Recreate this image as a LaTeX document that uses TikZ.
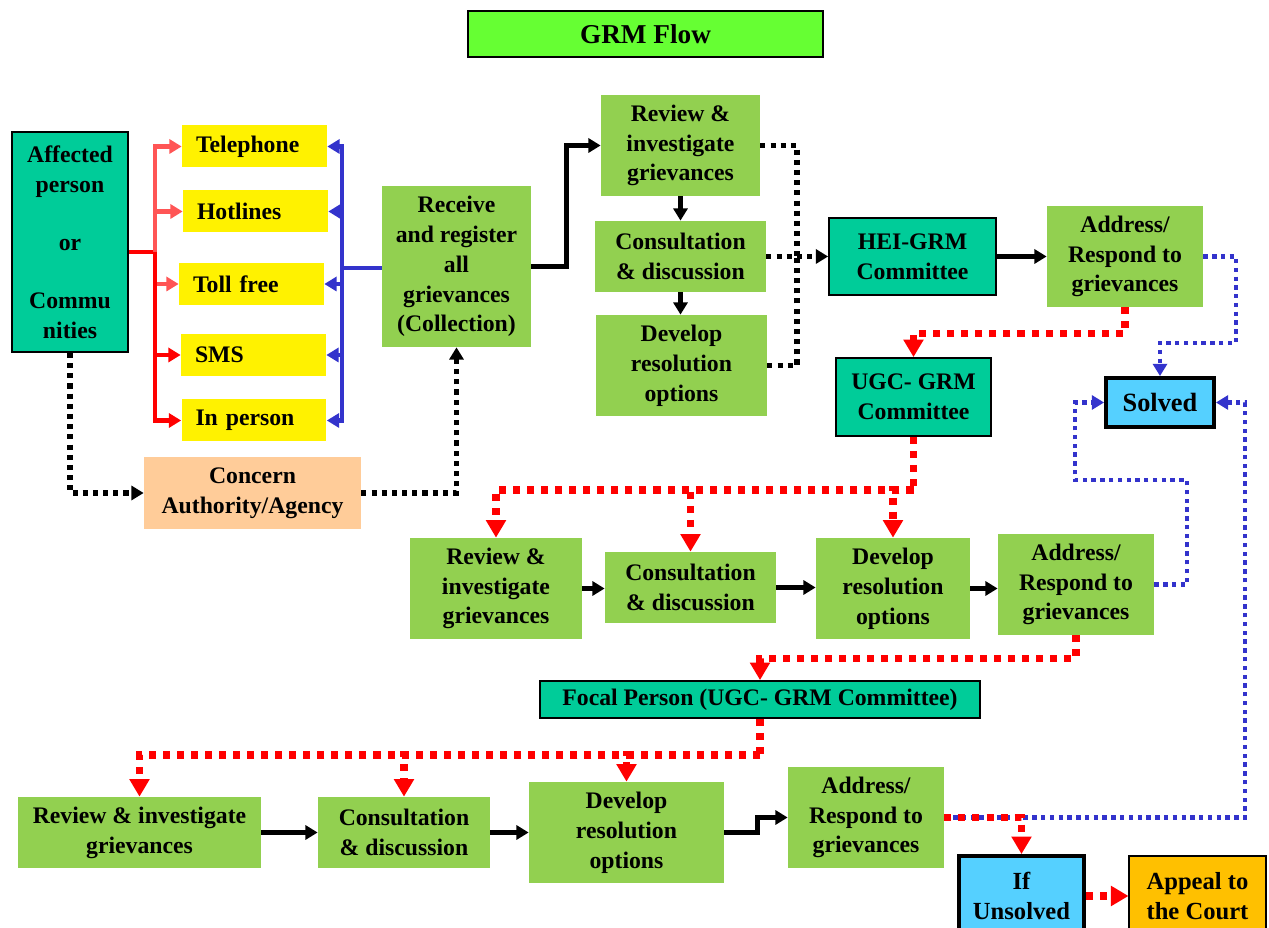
\documentclass[tikz,border=0pt]{standalone}
\usepackage{fontspec}
\setmainfont{Liberation Serif}
\usetikzlibrary{arrows.meta}

\definecolor{tealbox}{RGB}{0,204,153}
\definecolor{grnbox}{RGB}{146,208,80}
\definecolor{titlegrn}{RGB}{102,255,51}
\definecolor{peach}{RGB}{255,204,153}
\definecolor{skyblue}{RGB}{85,208,255}
\definecolor{amber}{RGB}{255,192,0}
\definecolor{lineblue}{RGB}{51,51,204}
\definecolor{lightred}{RGB}{255,85,85}

\begin{document}
\begin{tikzpicture}[x=0.02cm, y=-0.02cm,
    font=\fontsize{13.5}{17}\selectfont\bfseries,
    >={Triangle[width=8pt,length=7pt]},
    gbox/.style={fill=grnbox, align=center, inner sep=0pt},
    tbox/.style={fill=tealbox, draw=black, line width=1pt, align=center, inner sep=0pt},
    ybox/.style={fill=yellow, minimum height=0.84cm, text width=2.34cm, inner xsep=0.28cm, align=left},
    sbox/.style={fill=skyblue, draw=black, line width=2.2pt, align=center, inner sep=0pt},
    solid line/.style={draw=black, line width=2.6pt},
    redline/.style={draw=red, line width=2.3pt},
    lredline/.style={draw=lightred, line width=2.3pt},
    blueline/.style={draw=lineblue, line width=2.3pt},
    blkdot/.style={draw=black, line width=2.9pt, dash pattern=on 2.9pt off 2.9pt},
    reddot/.style={draw=red, line width=4pt, dash pattern=on 4pt off 4pt,
        >={Triangle[width=11pt,length=10pt]}},
    bludot/.style={draw=lineblue, line width=2.5pt, dash pattern=on 2.5pt off 2.5pt,
        >={Triangle[width=8pt,length=7pt]}}]

    \useasboundingbox (0,0) rectangle (1269,928);

    % Title
    \node[fill=titlegrn, draw=black, line width=1.6pt, minimum width=7.1cm, minimum height=0.92cm,
        font=\fontsize{15.5}{18}\selectfont\bfseries] (title) at (645.5,34) {GRM Flow};

    % Entry and channels
    \node[tbox, minimum width=2.32cm, minimum height=4.4cm] (aff) at (70,242)
        {Affected\\person\\[16pt]or\\[16pt]Commu\\nities};
    \node[ybox] (tel) at (254.5,146.5) {Telephone};
    \node[ybox] (hot) at (255.5,211.5) {Hotlines};
    \node[ybox] (toll) at (251.5,284) {Toll free};
    \node[ybox] (sms) at (253.5,355) {SMS};
    \node[ybox] (inper) at (254,420.5) {In person};
    \node[fill=peach, align=center, inner sep=0pt, minimum width=4.34cm, minimum height=1.44cm]
        (concern) at (252.5,493) {Concern\\Authority/Agency};
    \node[gbox, minimum width=2.98cm, minimum height=3.22cm] (recv) at (456.5,266.5)
        {Receive\\and register\\all\\grievances\\(Collection)};

    % HEI level
    \node[gbox, minimum width=3.18cm, minimum height=2.02cm] (rev1) at (680.5,145.5)
        {Review \&\\investigate\\grievances};
    \node[gbox, minimum width=3.42cm, minimum height=1.42cm] (con1) at (680.5,256.5)
        {Consultation\\\& discussion};
    \node[gbox, minimum width=3.42cm, minimum height=2.02cm] (dev1) at (681.5,365.5)
        {Develop\\resolution\\options};
    \node[tbox, minimum width=3.34cm, minimum height=1.54cm] (hei) at (912.5,256.5)
        {HEI-GRM\\Committee};
    \node[gbox, minimum width=3.12cm, minimum height=2.02cm] (adr1) at (1125,256.5)
        {Address/\\Respond to\\grievances};
    \node[tbox, minimum width=3.1cm, minimum height=1.56cm] (ugc) at (913.5,397)
        {UGC- GRM\\Committee};
    \node[sbox, minimum width=2.16cm, minimum height=0.98cm,
        font=\fontsize{15}{18}\selectfont\bfseries] (solved) at (1160,402.5) {Solved};

    % UGC level
    \node[gbox, minimum width=3.44cm, minimum height=2.02cm] (rev2) at (496,588.5)
        {Review \&\\investigate\\grievances};
    \node[gbox, minimum width=3.42cm, minimum height=1.42cm] (con2) at (690.5,587.5)
        {Consultation\\\& discussion};
    \node[gbox, minimum width=3.08cm, minimum height=2.02cm] (dev2) at (893,588.5)
        {Develop\\resolution\\options};
    \node[gbox, minimum width=3.12cm, minimum height=2.02cm] (adr2) at (1076,584.5)
        {Address/\\Respond to\\grievances};
    \node[tbox, minimum width=8.8cm, minimum height=0.74cm] (focal) at (760,699.5)
        {Focal Person (UGC- GRM Committee)};

    % Focal person level
    \node[gbox, minimum width=4.86cm, minimum height=1.42cm] (rev3) at (139.5,832.5)
        {Review \& investigate\\grievances};
    \node[gbox, minimum width=3.44cm, minimum height=1.42cm] (con3) at (404,832.5)
        {Consultation\\\& discussion};
    \node[gbox, minimum width=3.9cm, minimum height=2.02cm] (dev3) at (626.5,832.5)
        {Develop\\resolution\\options};
    \node[gbox, minimum width=3.12cm, minimum height=2.02cm] (adr3) at (866,817.5)
        {Address/\\Respond to\\grievances};
    \node[sbox, minimum width=2.5cm, minimum height=1.6cm,
        font=\fontsize{14}{17}\selectfont\bfseries] (unsolved) at (1021.5,896) {If\\Unsolved};
    \node[fill=amber, draw=black, line width=0.6pt, align=center, inner sep=0pt,
        minimum width=2.74cm, minimum height=1.6cm,
        font=\fontsize{14}{17}\selectfont\bfseries] (appeal) at (1197.5,896) {Appeal to\\the Court};

    % Channels
    \coordinate (rsplit) at (155,252);
    \draw[redline] (aff.east |- rsplit) -- (rsplit);
    \foreach \b in {tel,hot,toll} \draw[lredline,->] (rsplit) |- (\b.west);
    \foreach \b in {sms,inper} \draw[redline,->] (rsplit) |- (\b.west);
    \coordinate (bsplit) at (342,268);
    \draw[blueline] (recv.west |- bsplit) -- (bsplit);
    \foreach \b in {tel,hot,toll,sms,inper} \draw[blueline,->] (bsplit) |- (\b.east);
    \draw[blkdot,->] (aff.south) |- (concern.west);
    \draw[blkdot,->] (concern.east) -| (recv.south);

    % HEI flow
    \draw[solid line,->] (recv.east) -- ++(35,0) |- (rev1.west);
    \draw[solid line,->] (rev1.south) -- (con1.north);
    \draw[solid line,->] (con1.south) -- (con1.south |- dev1.north);
    \coordinate (dsplit) at (797,256.5);
    \draw[blkdot] (rev1.east) -| (dsplit);
    \draw[blkdot] (dev1.east) -| (dsplit);
    \draw[blkdot,->] (con1.east) -- (hei.west);
    \draw[solid line,->] (hei.east) -- (adr1.west);
    \draw[reddot,->] (adr1.south) -- ++(0,26) -| (ugc.north);
    \draw[bludot,->] (adr1.east) -| (1236,343) -| (solved.north);

    % UGC flow
    \coordinate (usplit) at (913.5,490);
    \draw[reddot] (ugc.south) -- (usplit);
    \foreach \b in {rev2,con2,dev2} \draw[reddot,->] (usplit) -| (\b.north);
    \draw[solid line,->] (rev2.east) -- (rev2.east -| con2.west);
    \draw[solid line,->] (con2.east) -- (con2.east -| dev2.west);
    \draw[solid line,->] (dev2.east) -- (dev2.east -| adr2.west);
    \draw[bludot,->] (adr2.east) -| (1187,480) -| (1075,402.5) -- (solved.west);
    \draw[reddot,->] (adr2.south) -- ++(0,23) -| (focal.north);

    % Focal person flow
    \coordinate (fsplit) at (760,755);
    \draw[reddot] (focal.south) -- (fsplit);
    \foreach \b in {rev3,con3,dev3} \draw[reddot,->] (fsplit) -| (\b.north);
    \draw[solid line,->] (rev3.east) -- (con3.west);
    \draw[solid line,->] (con3.east) -- (con3.east -| dev3.west);
    \draw[solid line,->] (dev3.east) -- ++(33,0) |- (adr3.west);
    \draw[bludot,->] (adr3.east) -| (1245,402.5) -- (solved.east);
    \draw[reddot,->] (adr3.east) -| (unsolved.north);
    \draw[reddot,->] (unsolved.east) -- (unsolved.east -| appeal.west);

\end{tikzpicture}
\end{document}
